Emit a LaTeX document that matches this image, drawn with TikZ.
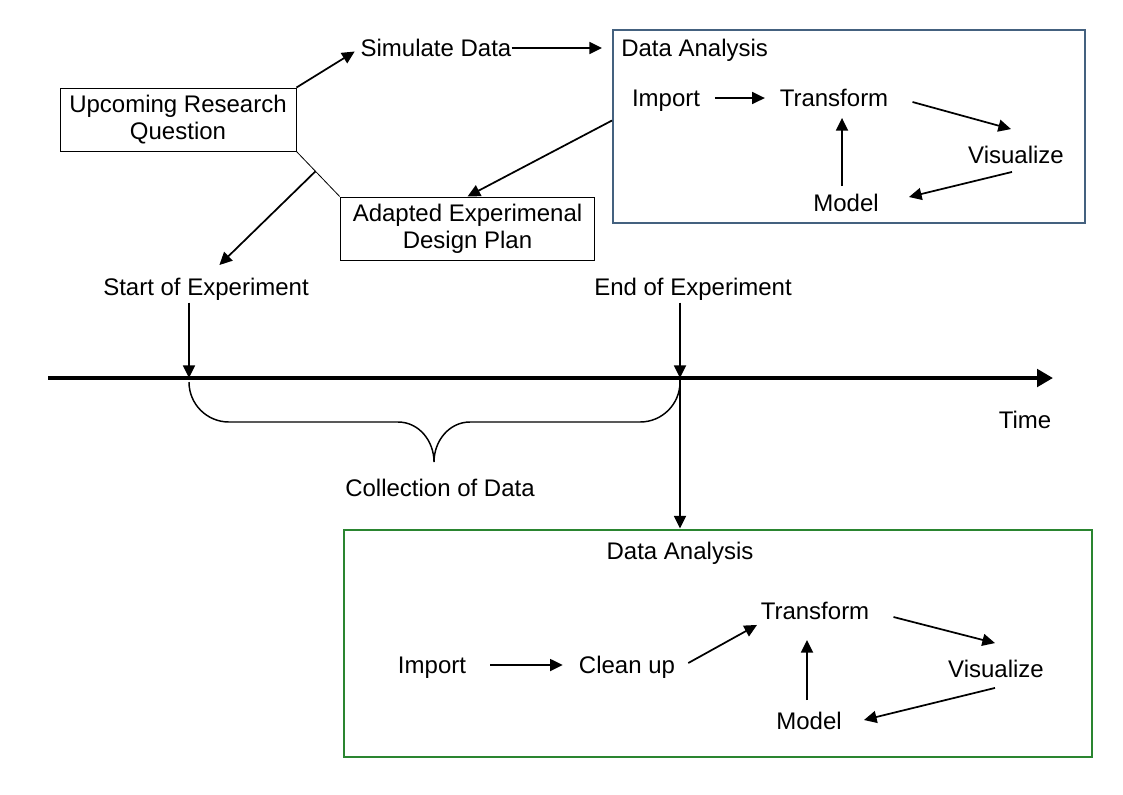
\documentclass[tikz,border=0pt]{standalone}
\usepackage{fontspec}
\setmainfont{Liberation Sans}
\usetikzlibrary{arrows.meta}
\definecolor{slate}{HTML}{44617F}
\definecolor{leaf}{HTML}{2A8530}
\begin{document}
\begin{tikzpicture}[x=0.75pt, y=-0.75pt,
	every node/.style={font=\fontsize{18}{20.25}\selectfont},
	lbl/.style={inner sep=0pt, text height=13pt, text depth=0pt},
	plan/.style={draw, line width=0.75pt, align=center, minimum width=177pt, minimum height=47.25pt},
	stage/.style={draw, line width=1.5pt, inner sep=0pt},
	arr/.style={-{Triangle[length=9.5pt,width=9pt]}, line width=1.3pt},
	axis/.style={-{Triangle[length=12pt,width=13pt]}, line width=3pt}]
\useasboundingbox (0,0) rectangle (1123,794);

% planning
\node[plan] (upq) at (178,119.5) {Upcoming Research\\Question};
\node[plan, minimum width=191pt] (adp) at (467.5,228.5) {Adapted Experimenal\\Design Plan};
\node[lbl] (sim) at (436,48) {Simulate Data};

% first analysis
\node[stage, draw=slate, minimum width=354pt, minimum height=144.75pt] (ana1) at (849,126.5) {};
\node[lbl, anchor=west] (ttl1) at ([shift={(9,19)}]ana1.north west) {Data Analysis};
\node[lbl] (imp1) at (666,98) {Import};
\node[lbl] (trf1) at (834,98) {Transform};
\node[lbl] (vis1) at (1016,155) {Visualize};
\node[lbl] (mdl1) at (846,203) {Model};

% time line
\node[lbl] (start) at (206,287) {Start of Experiment};
\node[lbl] (end) at (693,287) {End of Experiment};
\coordinate (t0) at (189,378);
\coordinate (t1) at (680,378);
\coordinate (ax0) at (48,378);
\coordinate (ax1) at (1053,378);
\node[lbl] (time) at (1025,420) {Time};
\node[lbl] (coll) at (440,488) {Collection of Data};

% second analysis
\node[stage, draw=leaf, minimum width=561pt, minimum height=170.25pt] (ana2) at (718,643) {};
\node[lbl] (ttl2) at (680,551) {Data Analysis};
\node[lbl] (imp2) at (432,665) {Import};
\node[lbl] (cln) at (627,665) {Clean up};
\node[lbl] (trf2) at (815,611) {Transform};
\node[lbl] (vis2) at (996,669) {Visualize};
\node[lbl] (mdl2) at (809,721) {Model};

\draw[arr, shorten >=5pt] (upq.north east) -- (sim.west);
\draw[arr, shorten >=7.5pt] (sim.east) -- (sim.east -| ana1.west);
\draw[arr] ([shift={(0,-6)}]ana1.west) -- (adp.north);
\draw[line width=0.6pt] (upq.south east) -- coordinate[pos=0.44] (fork) (adp.north west);
\draw[arr, shorten >=14pt] (fork) -- (start.north);

\draw[arr, shorten <=11pt, shorten >=11pt] (imp1) -- (trf1);
\draw[arr] ([shift={(24,4)}]trf1.east) -- ([shift={(-5,-17)}]vis1.north);
\draw[arr] ([shift={(-4,8)}]vis1.south) -- ([shift={(30,-6)}]mdl1.east);
\draw[arr] ([shift={(-4,-8)}]mdl1.north) -- ([shift={(8,11)}]trf1.south);

\draw[axis] (ax0) -- (ax1);
\draw[arr, shorten <=5pt] (start.south -| t0) -- (t0);
\draw[arr, shorten <=5pt] (end.south -| t1) -- (t1);
\draw[line width=1.1pt] ([yshift=-3pt]t0) to[out=-90,in=180] (229,422) -- (398,422)
	to[out=0,in=90] (434,462) to[out=90,in=180] (470,422) -- (640,422)
	to[out=0,in=-90] ([yshift=-3pt]t1);
\draw[arr] (t1) -- (t1 |- ana2.north);

\draw[arr, shorten <=18pt, shorten >=12pt] (imp2) -- (cln);
\draw[arr] ([shift={(13,-2)}]cln.east) -- ([shift={(-3.5,5)}]trf2.south west);
\draw[arr] ([shift={(24,6)}]trf2.east) -- ([shift={(-1,-17)}]vis2.north);
\draw[arr] ([shift={(-1,10)}]vis2.south) -- ([shift={(22,-1)}]mdl2.east);
\draw[arr] ([shift={(-2,-12)}]mdl2.north) -- ([shift={(-8,20)}]trf2.south);
\end{tikzpicture}
\end{document}
